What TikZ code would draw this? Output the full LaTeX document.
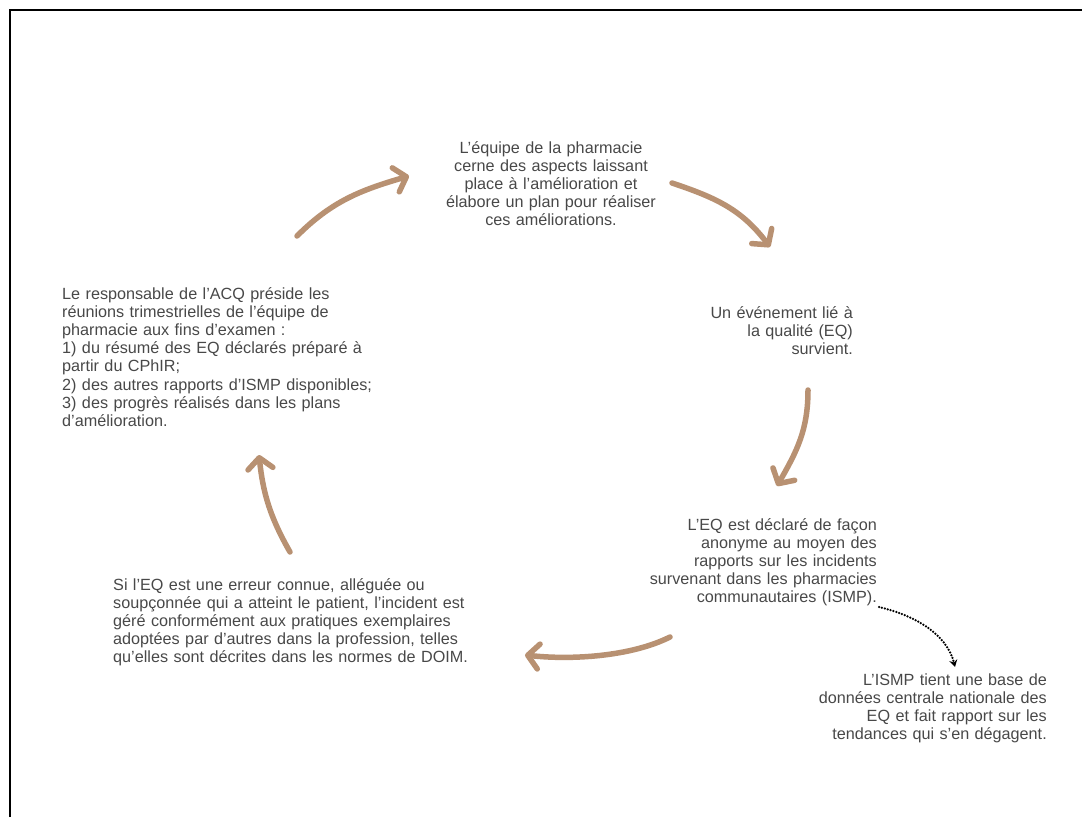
\documentclass[tikz,border=0pt]{standalone}
\usepackage{fontspec}
\setmainfont{Liberation Sans}
\usetikzlibrary{arrows.meta}
\definecolor{tanarrow}{RGB}{184,145,114}
\definecolor{txt}{RGB}{72,72,72}
\begin{document}
\begin{tikzpicture}[x=1pt,y=-1pt,
  lbl/.style={inner sep=0pt, text=txt, font=\fontsize{16.2}{18.2}\selectfont},
  cyc/.style={draw=tanarrow, line width=5.5pt, line cap=round, -{Straight Barb[length=11pt,width=25pt,round]}},
  dotarr/.style={draw=black, line width=2.5pt, line cap=round, dash pattern=on 0pt off 3pt, -{Stealth[length=7pt,width=8pt]}}
]
\useasboundingbox (0,0) rectangle (1082,817);
\draw[line width=2pt] (10,817) -- (10,10) -- (1082,10);

\node[lbl, text width=280pt, align=center, anchor=base] (t1) at (551,153)
  {L’équipe de la pharmacie\\cerne des aspects laissant\\place à l’amélioration et\\élabore un plan pour réaliser\\ces améliorations.};
\node[lbl, text width=330pt, align=left, anchor=base west] (t2) at (62,299)
  {Le responsable de l’ACQ préside les\\réunions trimestrielles de l’équipe de\\pharmacie aux fins d’examen :\\1) du résumé des EQ déclarés préparé à\\partir du CPhIR;\\2) des autres rapports d’ISMP disponibles;\\3) des progrès réalisés dans les plans\\d’amélioration.};
\node[lbl, text width=200pt, align=right, anchor=base east] (t3) at (853,318)
  {Un événement lié à\\la qualité (EQ)\\survient.};
\node[lbl, text width=260pt, align=right, anchor=base east] (t4) at (877,530)
  {L’EQ est déclaré de façon\\anonyme au moyen des\\rapports sur les incidents\\survenant dans les pharmacies\\communautaires (ISMP).};
\node[lbl, text width=260pt, align=right, anchor=base east] (t5) at (1047,685)
  {L’ISMP tient une base de\\données centrale nationale des\\EQ et fait rapport sur les\\tendances qui s’en dégagent.};
\node[lbl, text width=380pt, align=left, anchor=base west] (t6) at (113,590)
  {Si l’EQ est une erreur connue, alléguée ou\\soupçonnée qui a atteint le patient, l’incident est\\géré conformément aux pratiques exemplaires\\adoptées par d’autres dans la profession, telles\\qu’elles sont décrites dans les normes de DOIM.};

\coordinate (a1s) at (297,236); \coordinate (a1e) at (409,176);
\coordinate (a2s) at (672,183); \coordinate (a2e) at (770,247);
\coordinate (a3s) at (808,390); \coordinate (a3e) at (777,486);
\coordinate (a4s) at (670,637); \coordinate (a4e) at (525,655);
\coordinate (a5s) at (290,552); \coordinate (a5e) at (259,455);
\coordinate (ds) at (879,607); \coordinate (de) at (955,667);

\draw[cyc] (a1s) .. controls +(35,-35) and +(-48,14) .. (a1e);
\draw[cyc] (a2s) .. controls +(45,15) and +(-28,-37) .. (a2e);
\draw[cyc] (a3s) .. controls +(0,40) and +(20,-35) .. (a3e);
\draw[cyc] (a4s) .. controls +(-40,20) and +(45,5) .. (a4e);
\draw[cyc] (a5s) .. controls +(-20,-35) and +(4,38) .. (a5e);
\draw[dotarr] (ds) .. controls +(38,9) and +(-8,-32) .. (de);
\end{tikzpicture}
\end{document}
